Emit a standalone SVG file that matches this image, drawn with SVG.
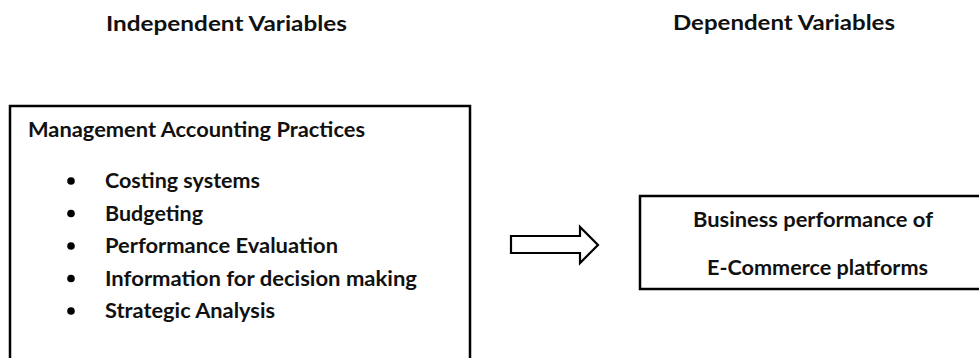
<svg xmlns="http://www.w3.org/2000/svg" width="979" height="358" viewBox="0 0 979 358">
<style>
text{font-family:Lato,"Open Sans","Liberation Sans",sans-serif;font-weight:bold;font-size:20px;fill:#111}
.box{fill:#fff;stroke:#000;stroke-width:2.5}
.bul{fill:#000}
.arrow{fill:#fff;stroke:#000;stroke-width:2.2;stroke-linejoin:miter}
</style>
<rect width="979" height="358" fill="#fff"/>
<g id="heading-independent">
<text x="106" y="31" textLength="241" lengthAdjust="spacingAndGlyphs">Independent Variables</text>
</g>
<g id="heading-dependent">
<text x="673" y="30" textLength="222" lengthAdjust="spacingAndGlyphs">Dependent Variables</text>
</g>
<g id="node-map">
<rect class="box" x="10" y="106" width="460" height="300"/>
<text x="28" y="137" textLength="337" lengthAdjust="spacingAndGlyphs">Management Accounting Practices</text>
<circle class="bul" cx="71" cy="181" r="3.8"/>
<text x="105" y="188" textLength="155" lengthAdjust="spacingAndGlyphs">Costing systems</text>
<circle class="bul" cx="71" cy="213.5" r="3.8"/>
<text x="105" y="220.5" textLength="98" lengthAdjust="spacingAndGlyphs">Budgeting</text>
<circle class="bul" cx="71" cy="246" r="3.8"/>
<text x="105" y="253" textLength="233" lengthAdjust="spacingAndGlyphs">Performance Evaluation</text>
<circle class="bul" cx="71" cy="278.5" r="3.8"/>
<text x="105" y="285.5" textLength="312" lengthAdjust="spacingAndGlyphs">Information for decision making</text>
<circle class="bul" cx="71" cy="311" r="3.8"/>
<text x="105" y="318" textLength="170" lengthAdjust="spacingAndGlyphs">Strategic Analysis</text>
</g>
<g id="connectors">
<polygon class="arrow" points="511,236 580,236 580,227 598,245 580,263 580,253 511,253"/>
</g>
<g id="node-performance">
<rect class="box" x="640" y="196" width="360" height="93"/>
<text x="693" y="227" textLength="240" lengthAdjust="spacingAndGlyphs">Business performance of</text>
<text x="707" y="275" textLength="221" lengthAdjust="spacingAndGlyphs">E-Commerce platforms</text>
</g>
</svg>
